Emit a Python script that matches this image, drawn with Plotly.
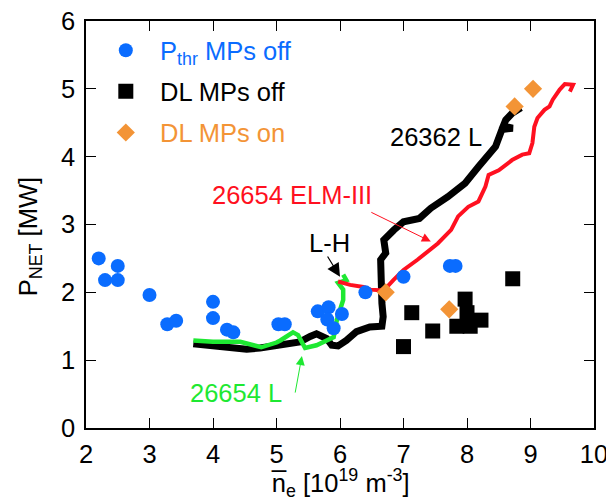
import plotly.graph_objects as go

# ---- data ----
# Pthr, MPs off (blue circles)
pthr_ne = [2.2, 2.3, 2.5, 2.5, 3.0, 3.28, 3.42, 4.0, 4.0, 4.22, 4.32, 5.03, 5.13,
           5.65, 5.82, 5.8, 5.9, 6.03, 6.4, 7.0, 7.73, 7.82]
pthr_p = [2.5, 2.18, 2.39, 2.18, 1.96, 1.53, 1.58, 1.86, 1.62, 1.45, 1.41, 1.53, 1.53,
          1.72, 1.78, 1.6, 1.47, 1.68, 2.0, 2.23, 2.39, 2.39]

# DL, MPs off (black squares)
dloff_ne = [7.0, 7.13, 7.46, 7.84, 7.97, 8.0, 8.05, 8.22, 8.72]
dloff_p = [1.2, 1.7, 1.43, 1.5, 1.9, 1.7, 1.5, 1.59, 2.2]

# DL, MPs on (orange diamonds)
dlon_ne = [6.72, 7.72, 8.75, 9.04]
dlon_p = [2.0, 1.75, 4.74, 5.0]

# shot 26362 L (black trace)
s26362_ne = [3.69, 4.0, 4.27, 4.53, 4.74, 4.95, 5.21, 5.37, 5.53, 5.63, 5.79, 5.87, 5.97,
             6.1, 6.26, 6.47, 6.66, 6.68, 6.66, 6.66, 6.64, 6.72, 6.69, 6.85, 7.0, 7.25,
             7.43, 7.7, 7.97, 8.18, 8.31, 8.45, 8.55, 8.72, 8.57, 8.61, 8.71, 8.85]
s26362_p = [1.24, 1.21, 1.19, 1.16, 1.18, 1.21, 1.25, 1.27, 1.35, 1.39, 1.32, 1.22, 1.21,
            1.29, 1.42, 1.49, 1.5, 1.64, 1.84, 2.18, 2.48, 2.58, 2.77, 2.92, 3.04, 3.09,
            3.24, 3.41, 3.61, 3.85, 4.0, 4.15, 4.4, 4.42, 4.45, 4.54, 4.64, 4.72]

# shot 26654 ELM-III (red trace)
s26654h_ne = [5.97, 6.16, 6.37, 6.48, 6.63, 6.72, 6.84, 7.0, 7.22, 7.43, 7.54, 7.75, 7.86,
              8.02, 8.18, 8.29, 8.34, 8.5, 8.71, 8.87, 8.98, 9.03, 9.06, 9.11, 9.22, 9.3,
              9.35, 9.46, 9.54, 9.67, 9.62]
s26654h_p = [2.16, 2.11, 2.08, 2.04, 2.03, 2.06, 2.18, 2.33, 2.48, 2.63, 2.72, 2.92, 3.12,
             3.26, 3.34, 3.56, 3.73, 3.8, 3.95, 4.03, 4.05, 4.2, 4.44, 4.57, 4.69, 4.74,
             4.84, 4.99, 5.07, 5.06, 4.96]

# shot 26654 L (green trace)
s26654l_ne = [3.69, 4.0, 4.43, 4.76, 5.0, 5.06, 5.26, 5.34, 5.45, 5.63, 5.79, 5.9, 5.95,
              6.0, 6.05, 6.05, 5.97, 6.1, 6.05]
s26654l_p = [1.29, 1.27, 1.27, 1.19, 1.26, 1.29, 1.41, 1.37, 1.18, 1.22, 1.29, 1.34, 1.59,
             1.77, 1.89, 2.04, 2.14, 2.18, 2.26]

x_ticks = [2, 3, 4, 5, 6, 7, 8, 9, 10]
y_ticks = [0, 1, 2, 3, 4, 5, 6]

BLUE = "#0a6cff"
ORANGE = "#f39436"
GREEN = "#1ee832"
RED = "#ff1020"
BLACK = "#000000"
FONT = "Liberation Sans, Arial, Helvetica, sans-serif"
FS = 25.5
NB = "\u00a0\u00a0"

fig = go.Figure()

fig.add_trace(go.Scatter(x=s26362_ne, y=s26362_p, mode="lines",
                         line=dict(color=BLACK, width=7), showlegend=False, hoverinfo="skip"))
fig.add_trace(go.Scatter(x=s26654l_ne, y=s26654l_p, mode="lines",
                         line=dict(color=GREEN, width=4.5), showlegend=False, hoverinfo="skip"))
fig.add_trace(go.Scatter(x=s26654h_ne, y=s26654h_p, mode="lines",
                         line=dict(color=RED, width=4), showlegend=False, hoverinfo="skip"))

fig.add_trace(go.Scatter(x=pthr_ne, y=pthr_p, mode="markers", legendgroup="a",
                         marker=dict(symbol="circle", size=14, color=BLUE),
                         name=f'<span style="color:{BLUE}">{NB}P<sub>thr</sub> MPs off</span>'))
fig.add_trace(go.Scatter(x=dloff_ne, y=dloff_p, mode="markers", legendgroup="b",
                         marker=dict(symbol="square", size=15, color=BLACK),
                         name=f'<span style="color:#000">{NB}DL MPs off</span>'))
fig.add_trace(go.Scatter(x=dlon_ne, y=dlon_p, mode="markers", legendgroup="c",
                         marker=dict(symbol="diamond", size=14, color=ORANGE),
                         name=f'<span style="color:{ORANGE}">{NB}DL MPs on</span>'))

# text labels
fig.add_annotation(x=7.51, y=4.29, text="26362 L", showarrow=False,
                   font=dict(color=BLACK, size=FS))
fig.add_annotation(x=5.24, y=3.44, text="26654 ELM-III", showarrow=False,
                   font=dict(color=RED, size=FS))
fig.add_annotation(x=5.83, y=2.73, text="L-H", showarrow=False,
                   font=dict(color=BLACK, size=FS))
fig.add_annotation(x=4.36, y=0.52, text="26654 L", showarrow=False,
                   font=dict(color=GREEN, size=FS))

# arrows
fig.add_annotation(x=6.0, y=2.23, ax=5.79, ay=2.55, axref="x", ayref="y", text="",
                   showarrow=True, arrowhead=2, arrowsize=2.2, arrowwidth=1.2,
                   arrowcolor=BLACK, standoff=0)
fig.add_annotation(x=7.43, y=2.75, ax=6.47, ay=3.19, axref="x", ayref="y", text="",
                   showarrow=True, arrowhead=2, arrowsize=1.8, arrowwidth=1,
                   arrowcolor=RED, standoff=0)
fig.add_annotation(x=5.4, y=1.06, ax=5.29, ay=0.5, axref="x", ayref="y", text="",
                   showarrow=True, arrowhead=2, arrowsize=1.8, arrowwidth=1,
                   arrowcolor=GREEN, standoff=0)

# axis titles
fig.add_annotation(xref="paper", yref="paper", x=0.5, y=-0.135,
                   xanchor="center", yanchor="middle",
                   text="n\u0305<sub>e</sub> [10<sup>19</sup> m<sup>-3</sup>]",
                   showarrow=False, font=dict(size=FS, color=BLACK))
fig.add_annotation(xref="paper", yref="paper", x=-0.110, y=0.469, textangle=-90,
                   xanchor="center", yanchor="middle",
                   text="P<sub>NET</sub> [MW]",
                   showarrow=False, font=dict(size=FS, color=BLACK))

axis_common = dict(showline=True, linecolor=BLACK, linewidth=1.5, mirror="ticks",
                   ticks="inside", ticklen=10, tickwidth=1, tickcolor=BLACK,
                   showgrid=False, zeroline=False, automargin=False,
                   ticklabeloverflow="allow",
                   tickfont=dict(size=FS, color=BLACK, family=FONT))

fig.update_xaxes(range=[2, 10], tickvals=x_ticks, ticktext=[str(v) for v in x_ticks],
                 ticklabelstandoff=3, **axis_common)
fig.update_yaxes(range=[0, 6], tickvals=y_ticks, ticktext=[str(v) for v in y_ticks],
                 ticklabelstandoff=4, **axis_common)

fig.update_layout(
    width=606, height=502,
    margin=dict(l=86, r=12, t=21, b=74),
    paper_bgcolor="white", plot_bgcolor="white",
    font=dict(family=FONT, size=FS, color=BLACK),
    legend=dict(x=0.039, y=0.985, xanchor="left", yanchor="top",
                bgcolor="rgba(0,0,0,0)", tracegroupgap=5,
                font=dict(size=FS, family=FONT)),
)

fig.write_html("out.html", config={"displayModeBar": False},
               post_script="document.body.style.margin='0';document.body.style.overflow='hidden';")
